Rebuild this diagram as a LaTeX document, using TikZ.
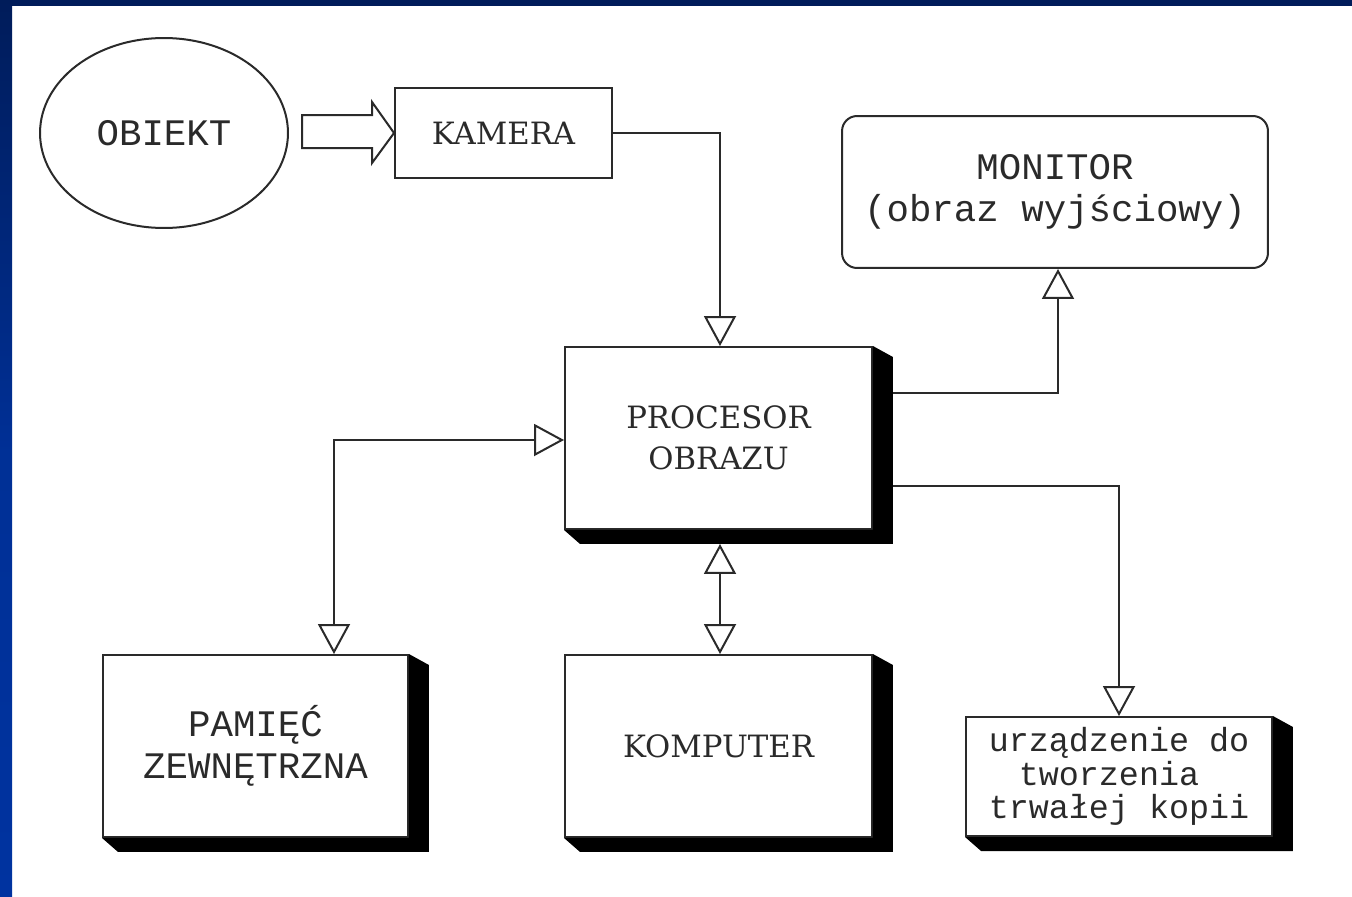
\documentclass[tikz,border=0pt]{standalone}
\usepackage{fontspec}
\setmonofont{Liberation Mono}
\newfontfamily\slabfont{DejaVu Serif}
\usetikzlibrary{arrows.meta,shapes.geometric}
\definecolor{navy}{HTML}{001C5A}
\definecolor{frameblue}{HTML}{0033A0}
\definecolor{linegray}{HTML}{2A2A2A}
\newcommand\boxshadow[1]{\fill[black] (#1.north east) -- ([shift={(20,11)}]#1.north east) -- ([shift={(20,14)}]#1.south east) -- ([shift={(16,14)}]#1.south west) -- (#1.south west) -- (#1.south east) -- cycle;}
\begin{document}
\begin{tikzpicture}[x=0.02cm,y=-0.02cm,
  box/.style={draw=linegray, fill=white, line width=0.04cm, align=center, inner sep=0pt, text=linegray},
  mono/.style={font=\ttfamily\fontsize{21.3}{24}\selectfont},
  smallmono/.style={font=\ttfamily\fontsize{19}{19}\selectfont},
  slab/.style={font=\slabfont\fontsize{17.5}{23.3}\selectfont},
  conn/.style={draw=linegray, line width=0.04cm},
  onehead/.style={-{Triangle[open,length=0.6cm,width=0.64cm]}},
  twohead/.style={{Triangle[open,length=0.6cm,width=0.64cm]}-{Triangle[open,length=0.6cm,width=0.64cm]}}
]
% background and frame
\fill[white] (0,0) rectangle (1352,896);
\useasboundingbox (0,0) rectangle (1352,896);
\fill[navy] (0,0) rectangle (1352,6);
\shade[top color=navy, bottom color=frameblue, middle color=frameblue!85!navy] (0,0) rectangle (12,896);

% nodes
\node[box, ellipse, minimum width=4.96cm, minimum height=3.8cm, mono] (obj) at (164,133) {OBIEKT};
\node[box, minimum width=4.34cm, minimum height=1.8cm, slab] (kam) at (503.5,133) {KAMERA};
\node[box, minimum width=8.52cm, minimum height=3.04cm, rounded corners=0.3cm, mono] (mon) at (1055,192) {MONITOR\\(obraz wyjściowy)};
\node[box, minimum width=6.14cm, minimum height=3.64cm, slab] (proc) at (718.5,438) {PROCESOR\\OBRAZU};
\node[box, minimum width=6.1cm, minimum height=3.64cm, mono] (pam) at (255.5,746) {PAMIĘĆ\\ZEWNĘTRZNA};
\node[box, minimum width=6.14cm, minimum height=3.64cm, slab] (komp) at (718.5,746) {KOMPUTER};
\node[box, minimum width=6.12cm, minimum height=2.38cm, smallmono] (urz) at (1119,776.5) {\raisebox{-3pt}{\parbox{5.8cm}{\centering urządzenie do\\tworzenia\hphantom{x}\\trwałej kopii}}};

% shadows
\boxshadow{proc}
\boxshadow{pam}
\boxshadow{komp}
\boxshadow{urz}

% block arrow OBIEKT -> KAMERA
\draw[conn, fill=white] (kam.west) -- ++(-22,-31) -- ++(0,13) -- ++(-70,0) -- ++(0,33) -- ++(70,0) -- ++(0,15) -- cycle;

% connectors
\draw[conn, onehead] (kam.east) -| ([shift={(1.5,0)}]proc.north);
\draw[conn, onehead] ([shift={(20,-45)}]proc.east) -| ([shift={(3,0)}]mon.south);
\draw[conn, onehead] ([shift={(20,48)}]proc.east) -| (urz.north);
\draw[conn, twohead] ([shift={(78.5,0)}]pam.north) |- ([shift={(0,2)}]proc.west);
\draw[conn, twohead] ([shift={(1.5,14)}]proc.south) -- ([shift={(1.5,0)}]komp.north);
\end{tikzpicture}
\end{document}
